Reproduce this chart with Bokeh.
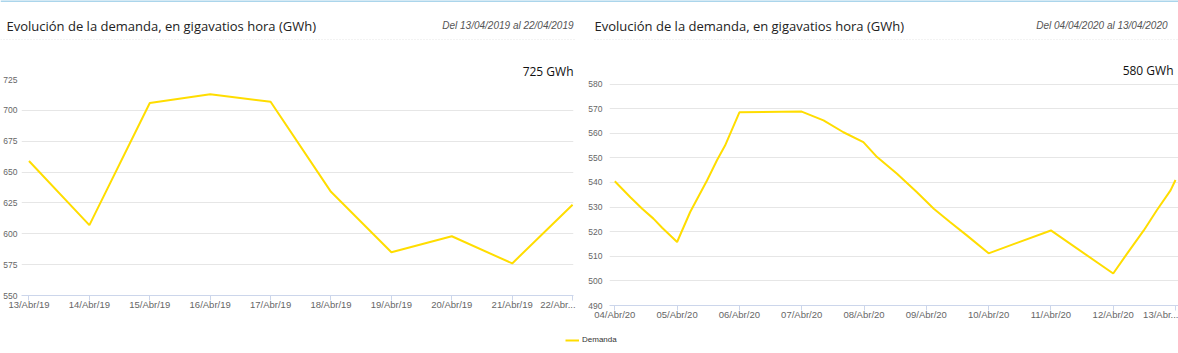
from bokeh.plotting import figure
from bokeh.models import Range1d, FixedTicker, Label, Legend, LegendItem
from bokeh.layouts import column, row
from bokeh.embed import file_html
from bokeh.resources import INLINE

# ---------------- data ----------------
chart_title = "Evolución de la demanda, en gigavatios hora (GWh)"
period_2019 = "Del 13/04/2019 al 22/04/2019"
period_2020 = "Del 04/04/2020 al 13/04/2020"
series_name = "Demanda"

days_2019 = ["13/Abr/19", "14/Abr/19", "15/Abr/19", "16/Abr/19", "17/Abr/19",
             "18/Abr/19", "19/Abr/19", "20/Abr/19", "21/Abr/19", "22/Abr..."]
t_2019 = [0, 1, 2, 3, 4, 5, 6, 7, 8, 9]
demand_2019 = [659, 607, 706, 713, 707, 634, 585, 598, 576, 623.5]
yticks_2019 = [550, 575, 600, 625, 650, 675, 700, 725]
max_label_2019 = "725 GWh"

days_2020 = ["04/Abr/20", "05/Abr/20", "06/Abr/20", "07/Abr/20", "08/Abr/20",
             "09/Abr/20", "10/Abr/20", "11/Abr/20", "12/Abr/20", "13/Abr..."]
t_2020 = [0.00, 0.25, 0.44, 0.62, 0.76, 1.00, 1.21, 1.48, 1.64, 1.77, 2.00,
          3.00, 3.35, 3.67, 3.99, 4.21, 4.53, 4.85, 5.12, 5.38, 5.65, 6.00,
          7.00, 8.00, 8.22, 8.49, 8.70, 8.92, 9.00]
demand_2020 = [540.5, 534.0, 529.3, 525.3, 521.6, 515.8, 528.0, 540.8, 549.0, 555.0, 568.5,
               568.8, 565.2, 560.4, 556.4, 550.3, 543.5, 536.0, 529.3, 523.9, 518.5, 511.2,
               520.5, 503.0, 511.0, 520.5, 528.7, 536.8, 541.0]
yticks_2020 = [490, 500, 510, 520, 530, 540, 550, 560, 570, 580]
max_label_2020 = "580 GWh"

# ---------------- style ----------------
YELLOW = "#ffdd00"
GRID = "#e6e6e6"
AXIS = "#ccd6eb"
LABEL = "#666666"
FONT = "Liberation Sans"
TITLE_FONT = "Open Sans"
NBSP = "\u00a0"


def panel(width, height, labels, xs, ys, yticks, x_start, x_end, y_end, bl, br,
          ystand, top_text, top_offset, top_standoff, pad_last):
    p = figure(width=width, height=height, output_backend="svg", toolbar_location=None,
               x_range=Range1d(x_start, x_end), y_range=Range1d(yticks[0], y_end),
               min_border_left=bl, min_border_right=br, min_border_top=39,
               min_border_bottom=23,
               title=top_text, title_location="above")
    p.outline_line_color = None
    p.border_fill_color = "white"
    p.background_fill_color = "white"

    p.title.align = "right"
    p.title.offset = top_offset
    p.title.standoff = top_standoff
    p.title.text_font = TITLE_FONT
    p.title.text_font_size = "12px"
    p.title.text_font_style = "normal"
    p.title.text_color = "#111111"

    p.line(xs, ys, line_color=YELLOW, line_width=2)

    n = len(labels)
    p.xaxis.ticker = FixedTicker(ticks=list(range(n)))
    overrides = {i: labels[i] for i in range(n)}
    # last category label is truncated and pushed left so that it ends at the plot edge
    overrides[n - 1] = labels[n - 1] + NBSP * pad_last
    p.xaxis.major_label_overrides = overrides
    p.xaxis.axis_line_color = AXIS
    p.xaxis.major_tick_line_color = AXIS
    p.xaxis.major_tick_out = 5
    p.xaxis.major_tick_in = 0
    p.xaxis.minor_tick_line_color = None
    p.xaxis.major_label_standoff = -2
    p.xaxis.major_label_text_font = FONT
    p.xaxis.major_label_text_font_size = "9.5px"
    p.xaxis.major_label_text_color = LABEL
    p.xgrid.visible = False

    p.yaxis.ticker = FixedTicker(ticks=yticks)
    p.yaxis.axis_line_color = None
    p.yaxis.major_tick_line_color = None
    p.yaxis.minor_tick_line_color = None
    p.yaxis.major_tick_out = 0
    p.yaxis.major_tick_in = 0
    p.yaxis.major_label_standoff = ystand
    p.yaxis.major_label_text_font = FONT
    p.yaxis.major_label_text_font_size = "8.5px"
    p.yaxis.major_label_text_color = LABEL
    p.ygrid.ticker = FixedTicker(ticks=yticks)
    p.ygrid.grid_line_color = GRID
    return p


# both frames share top/bottom borders; the 2020 panel is taller so its axis sits lower
p1 = panel(583, 278, days_2019, t_2019, demand_2019, yticks_2019, -0.124, 9.015,
           725, 19, 10, 4, max_label_2019, 0, 0, 3)
p2 = panel(595, 288, days_2020, t_2020, demand_2020, yticks_2020, -0.085, 9.048,
           581.83, 26, 0, 7, max_label_2020, 5, 2, 0)

# ---------------- header ----------------
head = figure(width=1178, height=40, output_backend="svg", toolbar_location=None,
              x_range=Range1d(0, 1178), y_range=Range1d(40, 0),
              x_axis_location=None, y_axis_location=None, min_border=0)
head.outline_line_color = None
head.grid.visible = False
head.segment(x0=[0], y0=[0.5], x1=[1178], y1=[0.5], line_color="#8fc7e5", line_width=1.5)
head.segment(x0=[0, 594], y0=[39.5, 39.5], x1=[575, 1178], y1=[39.5, 39.5],
             line_color="#cccccc", line_width=1, line_dash="1 2")
for x, txt in [(6, chart_title), (594, chart_title)]:
    head.add_layout(Label(x=x, y=25, text=txt, text_font=TITLE_FONT, text_font_size="13px",
                          text_color="#222222", text_baseline="alphabetic"))
for x, txt in [(573, period_2019), (1167, period_2020)]:
    head.add_layout(Label(x=x, y=25, text=txt, text_font=FONT, text_font_size="10px",
                          text_font_style="italic", text_color="#555555",
                          text_align="right", text_baseline="alphabetic"))

# ---------------- legend ----------------
leg = figure(width=1178, height=25, output_backend="svg", toolbar_location=None,
             x_range=Range1d(0, 1), y_range=Range1d(0, 1),
             x_axis_location=None, y_axis_location=None, min_border=0)
leg.outline_line_color = None
leg.grid.visible = False
# series kept out of this strip's view; it only provides the legend swatch
r = leg.line(x=t_2019, y=demand_2019, line_color=YELLOW, line_width=2)
legend = Legend(items=[LegendItem(label=series_name, renderers=[r])], location=(565, 9),
                orientation="horizontal", border_line_color=None, background_fill_alpha=0,
                padding=0, margin=0, spacing=0, glyph_width=14, glyph_height=8,
                label_height=8, label_standoff=3, label_text_font=FONT,
                label_text_font_size="8px", label_text_color="#333333")
leg.add_layout(legend)

layout = column(head, row(p1, p2, align="start"), leg)
open("out.html", "w").write(file_html(layout, INLINE))
